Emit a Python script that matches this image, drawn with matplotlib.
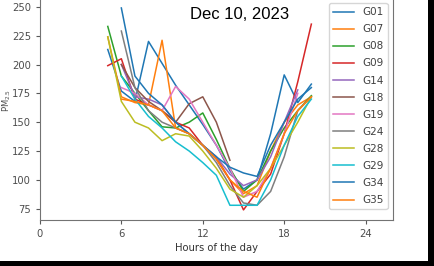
import numpy as np
import matplotlib
matplotlib.use('Agg')
import matplotlib.pyplot as plt
from matplotlib.patches import Rectangle

nan = np.nan

# hours of the day for the readings
hours = [5, 6, 7, 8, 9, 10, 11, 12, 13, 14, 15, 16, 17, 18, 19, 20]

# PM2.5 per station (approximate)
G01 = [213, 177, 168, 220, 201, 182, 165, 148, 130, 108, 92, 100, 140, 191, 167, 183]
G07 = [224, 172, 167, 165, 221, 145, 140, 130, 120, 100, 88, 95, 125, 150, 165, 172]
G08 = [233, 190, 175, 160, 146, 145, 150, 158, 135, 110, 90, 100, 125, 145, 160, 173]
G09 = [199, 205, 170, 165, 160, 150, 145, 130, 118, 100, 74, 90, 105, 140, 185, 235]
G14 = [nan, 200, 172, 170, 165, 150, 140, 130, 120, 105, 95, 100, 120, 150, 178, nan]
G18 = [nan, 200, 180, 168, 160, 150, 166, 172, 150, 117, nan, nan, nan, nan, nan, nan]
G19 = [nan, 180, 175, 165, 160, 181, 170, 150, 130, 110, 85, 90, 110, 140, 175, nan]
G24 = [nan, 229, 180, 160, 150, 145, 140, 130, 115, 95, 80, 78, 90, 120, 160, 172]
G28 = [224, 168, 150, 145, 134, 140, 138, 125, 110, 92, 85, 95, 110, 130, 150, 172]
G29 = [nan, 190, 170, 155, 145, 133, 125, 115, 104, 78, 78, 78, 100, 130, 155, 170]
G34 = [nan, 249, 190, 175, 165, 150, 140, 130, 120, 111, 106, 103, 130, 150, 170, 180]
G35 = [nan, 170, 168, 165, 160, 145, 140, 130, 118, 100, 90, 85, 110, 140, 160, 172]

stations = ['G01', 'G07', 'G08', 'G09', 'G14', 'G18', 'G19', 'G24',
            'G28', 'G29', 'G34', 'G35']
series = [G01, G07, G08, G09, G14, G18, G19, G24, G28, G29, G34, G35]

fig = plt.figure(figsize=(4.34, 2.66), dpi=100, facecolor='black')
# white page inside the black frame of the screenshot
fig.add_artist(Rectangle((0, 5 / 266), 428 / 434, 1, transform=fig.transFigure,
                         facecolor='white', edgecolor='none', zorder=-1))

ax = fig.add_axes([0.092, 0.173, 0.813, 0.835])
for name, vals in zip(stations, series):
    ax.plot(hours, vals, lw=1.1, label=name)

ax.set_xlim(0, 26)
ax.set_ylim(65.25, 257.75)
ax.set_xticks([0, 6, 12, 18, 24])
ax.set_yticks([75, 100, 125, 150, 175, 200, 225, 250])
ax.tick_params(labelsize=7.2, length=3, colors='0.35', labelcolor='0.3')
for sp in ax.spines.values():
    sp.set_color('0.45')

ax.set_xlabel('Hours of the day', fontsize=7.2, color='0.2', labelpad=3)
ax.set_ylabel('PM$_{2.5}$', fontsize=6, color='0.3')
ax.yaxis.set_label_coords(-0.075, 0.54)

ax.text(0.425, 0.923, 'Dec 10, 2023', transform=ax.transAxes, va='center',
        fontsize=12, family='Liberation Sans')

leg = ax.legend(loc='upper right', fontsize=7.5, labelspacing=0.68,
                handlelength=2.0, borderaxespad=0.5)
for t in leg.get_texts():
    t.set_color('0.25')

fig.savefig('out.png', dpi=100, facecolor=fig.get_facecolor())
